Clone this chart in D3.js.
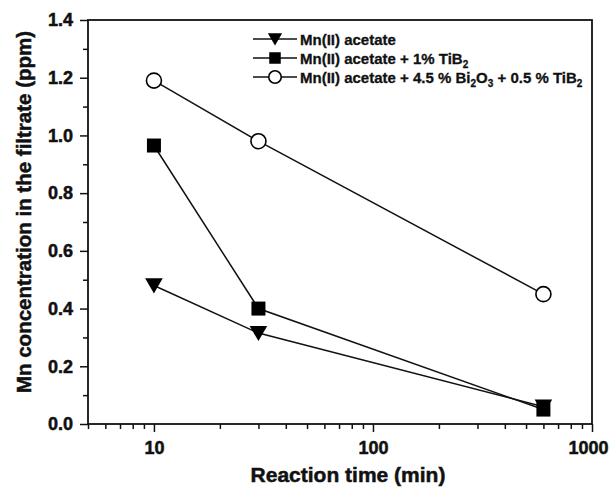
<!DOCTYPE html>
<html lang="en">
<head>
<meta charset="utf-8">
<title>Mn concentration vs reaction time</title>
<script src="https://cdn.jsdelivr.net/npm/d3@7"></script>
<style>
  body { margin: 0; background: #fff; }
  svg { font-family: "Liberation Sans", Arial, sans-serif; font-weight: bold; }
</style>
</head>
<body>
<script>
// data
var times = [10, 30, 600];
var mnAcetate = [0.48, 0.315, 0.06];
var mnTiB2 = [0.965, 0.40, 0.05];
var mnBiTi = [1.19, 0.98, 0.45];
var yTicks = [0.0, 0.2, 0.4, 0.6, 0.8, 1.0, 1.2, 1.4];
var xTicks = [10, 100, 1000];

var width = 611, height = 489;
var margin = {left: 88, right: 19, top: 20, bottom: 65};

var svg = d3.select("body").append("svg")
  .attr("width", width)
  .attr("height", height);

var x = d3.scaleLog().domain([5, 1000]).range([margin.left, width - margin.right]);
var y = d3.scaleLinear().domain([0, 1.4]).range([height - margin.bottom, margin.top]);

// frame
svg.append("rect")
  .attr("x", x.range()[0]).attr("y", y.range()[1])
  .attr("width", x.range()[1] - x.range()[0])
  .attr("height", y.range()[0] - y.range()[1])
  .attr("fill", "none").attr("stroke", "#111").attr("stroke-width", 1.8);

// x axis
var minorX = [];
[1, 10, 100].forEach(function(d) { for (var k = 2; k <= 9; k++) if (d * k >= 5) minorX.push(d * k); });
var xMajor = d3.axisBottom(x).tickValues(xTicks).tickSize(8).tickPadding(9).tickFormat(d3.format("d"));
var xMinor = d3.axisBottom(x).tickValues(minorX).tickSize(5).tickFormat("");
var gx = svg.append("g").attr("transform", "translate(0," + y.range()[0] + ")");
gx.call(xMinor);
gx.append("g").call(xMajor);
gx.selectAll(".domain").remove();
// keep the last label inside the page
gx.selectAll(".tick text").filter(function(d) { return d === 1000; }).attr("dx", -4);

// y axis
var minorY = d3.range(0.1, 1.4, 0.2);
var yMajor = d3.axisLeft(y).tickValues(yTicks).tickSize(8).tickPadding(7).tickFormat(d3.format(".1f"));
var yMinor = d3.axisLeft(y).tickValues(minorY).tickSize(5).tickFormat("");
var gy = svg.append("g").attr("transform", "translate(" + x.range()[0] + ",0)");
gy.call(yMinor);
gy.append("g").call(yMajor);
gy.selectAll(".domain").remove();

svg.selectAll(".tick line").attr("stroke", "#111").attr("stroke-width", 1.5);
svg.selectAll(".tick text")
  .attr("font-size", 18).attr("font-weight", "bold")
  .attr("font-family", "Liberation Sans, Arial, sans-serif").attr("fill", "#111")
  .attr("stroke", "#111").attr("stroke-width", 0.5);

// axis titles
svg.append("text")
  .attr("x", 348).attr("y", 482)
  .attr("text-anchor", "middle").attr("font-size", 21).attr("fill", "#111")
  .attr("stroke", "#111").attr("stroke-width", 0.5)
  .text("Reaction time (min)");
svg.append("text")
  .attr("transform", "translate(31,212) rotate(-90)")
  .attr("text-anchor", "middle").attr("font-size", 20.5).attr("fill", "#111")
  .attr("stroke", "#111").attr("stroke-width", 0.5)
  .text("Mn concentration in the filtrate (ppm)");

// series
var series = [
  {name: "acetate", values: mnAcetate, shape: "tri"},
  {name: "tib2", values: mnTiB2, shape: "sq"},
  {name: "bi", values: mnBiTi, shape: "circ"}
];

var line = d3.line()
  .x(function(d) { return x(d[0]); })
  .y(function(d) { return y(d[1]); });

function drawMarker(g, shape, s) {
  if (shape === "tri") {
    g.append("path")
      .attr("d", "M" + (-s * 0.55) + "," + (-s * 0.45) + "L" + (s * 0.55) + "," + (-s * 0.45) + "L0," + (s * 0.5) + "Z")
      .attr("fill", "#000");
  } else if (shape === "sq") {
    g.append("rect").attr("x", -s / 2).attr("y", -s / 2).attr("width", s).attr("height", s).attr("fill", "#000");
  } else {
    g.append("circle").attr("r", s / 2).attr("fill", "#fff").attr("stroke", "#000").attr("stroke-width", 1.6);
  }
}

series.forEach(function(s) {
  var pts = times.map(function(t, i) { return [t, s.values[i]]; });
  svg.append("path").datum(pts)
    .attr("d", line).attr("fill", "none").attr("stroke", "#111").attr("stroke-width", 1.5);
});
series.forEach(function(s) {
  times.forEach(function(t, i) {
    var g = svg.append("g").attr("transform", "translate(" + x(t) + "," + y(s.values[i]) + ")");
    drawMarker(g, s.shape, s.shape === "circ" ? 15 : (s.shape === "tri" ? 16 : 14));
  });
});

// legend
var legendRows = [
  [{t: "Mn(II) acetate"}],
  [{t: "Mn(II) acetate + 1% TiB"}, {t: "2", sub: true}],
  [{t: "Mn(II) acetate + 4.5 % Bi"}, {t: "2", sub: true}, {t: "O"}, {t: "3", sub: true}, {t: " + 0.5 % TiB"}, {t: "2", sub: true}]
];
legendRows.forEach(function(row, i) {
  var ly = 39 + i * 19;
  var g = svg.append("g").attr("transform", "translate(0," + ly + ")");
  g.append("line").attr("x1", 253).attr("x2", 297).attr("y1", 0).attr("y2", 0)
    .attr("stroke", "#111").attr("stroke-width", 1.5);
  var m = g.append("g").attr("transform", "translate(275,0)");
  drawMarker(m, series[i].shape, series[i].shape === "circ" ? 12.5 : (series[i].shape === "tri" ? 13 : 11.5));
  var txt = g.append("text").attr("x", 300).attr("y", 5.5).attr("font-size", 15).attr("fill", "#111")
    .attr("stroke", "#111").attr("stroke-width", 0.3);
  row.forEach(function(p) {
    var ts = txt.append("tspan").text(p.t);
    if (p.sub) ts.attr("font-size", 10).attr("dy", 4);
    else ts.attr("dy", txt.selectAll("tspan").size() > 1 ? -4 : 0);
  });
});
</script>
</body>
</html>
